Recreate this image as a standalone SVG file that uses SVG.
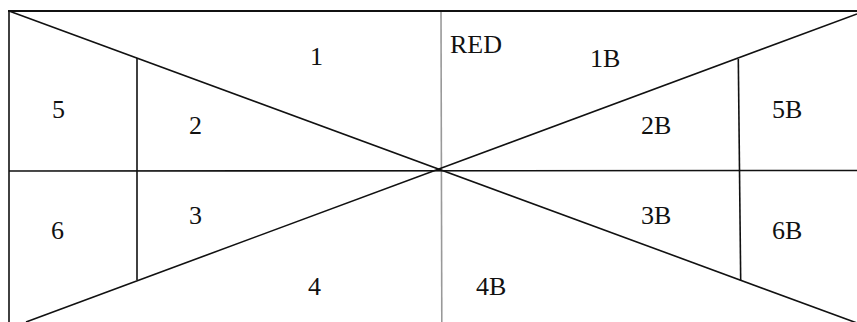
<svg xmlns="http://www.w3.org/2000/svg" width="857" height="322" viewBox="0 0 857 322">
<style>
.ln{stroke:#111;stroke-width:1.6;fill:none;stroke-linecap:butt}
.gr{stroke:#999;stroke-width:1.6;fill:none}
.lb{font-family:"Liberation Serif","Times New Roman",serif;font-size:26px;fill:#111}
</style>
<rect width="857" height="322" fill="#fff"/>
<g id="connectors">
<line class="gr" x1="441" y1="11" x2="441.8" y2="322"/>
<line class="ln" x1="8" y1="11" x2="857" y2="11" style="stroke-width:2"/>
<line class="ln" x1="9" y1="10" x2="9" y2="322"/>
<line class="ln" x1="9" y1="171" x2="857" y2="170.5"/>
<line class="ln" x1="9" y1="11" x2="857" y2="323"/>
<line class="ln" x1="26" y1="322" x2="857" y2="14"/>
<line class="ln" x1="137" y1="58" x2="137" y2="280"/>
<line class="ln" x1="738.3" y1="59" x2="740.7" y2="281"/>
</g>
<g id="n1"><text class="lb" x="310" y="65">1</text></g>
<g id="nRED"><text class="lb" x="450" y="53">RED</text></g>
<g id="n1B"><text class="lb" x="590" y="67">1B</text></g>
<g id="n5"><text class="lb" x="52" y="118">5</text></g>
<g id="n2"><text class="lb" x="189" y="134">2</text></g>
<g id="n2B"><text class="lb" x="641" y="134">2B</text></g>
<g id="n5B"><text class="lb" x="772" y="118">5B</text></g>
<g id="n6"><text class="lb" x="51" y="239">6</text></g>
<g id="n3"><text class="lb" x="189" y="224">3</text></g>
<g id="n3B"><text class="lb" x="641" y="224">3B</text></g>
<g id="n6B"><text class="lb" x="772" y="239">6B</text></g>
<g id="n4"><text class="lb" x="308" y="295">4</text></g>
<g id="n4B"><text class="lb" x="476" y="295">4B</text></g>
</svg>
